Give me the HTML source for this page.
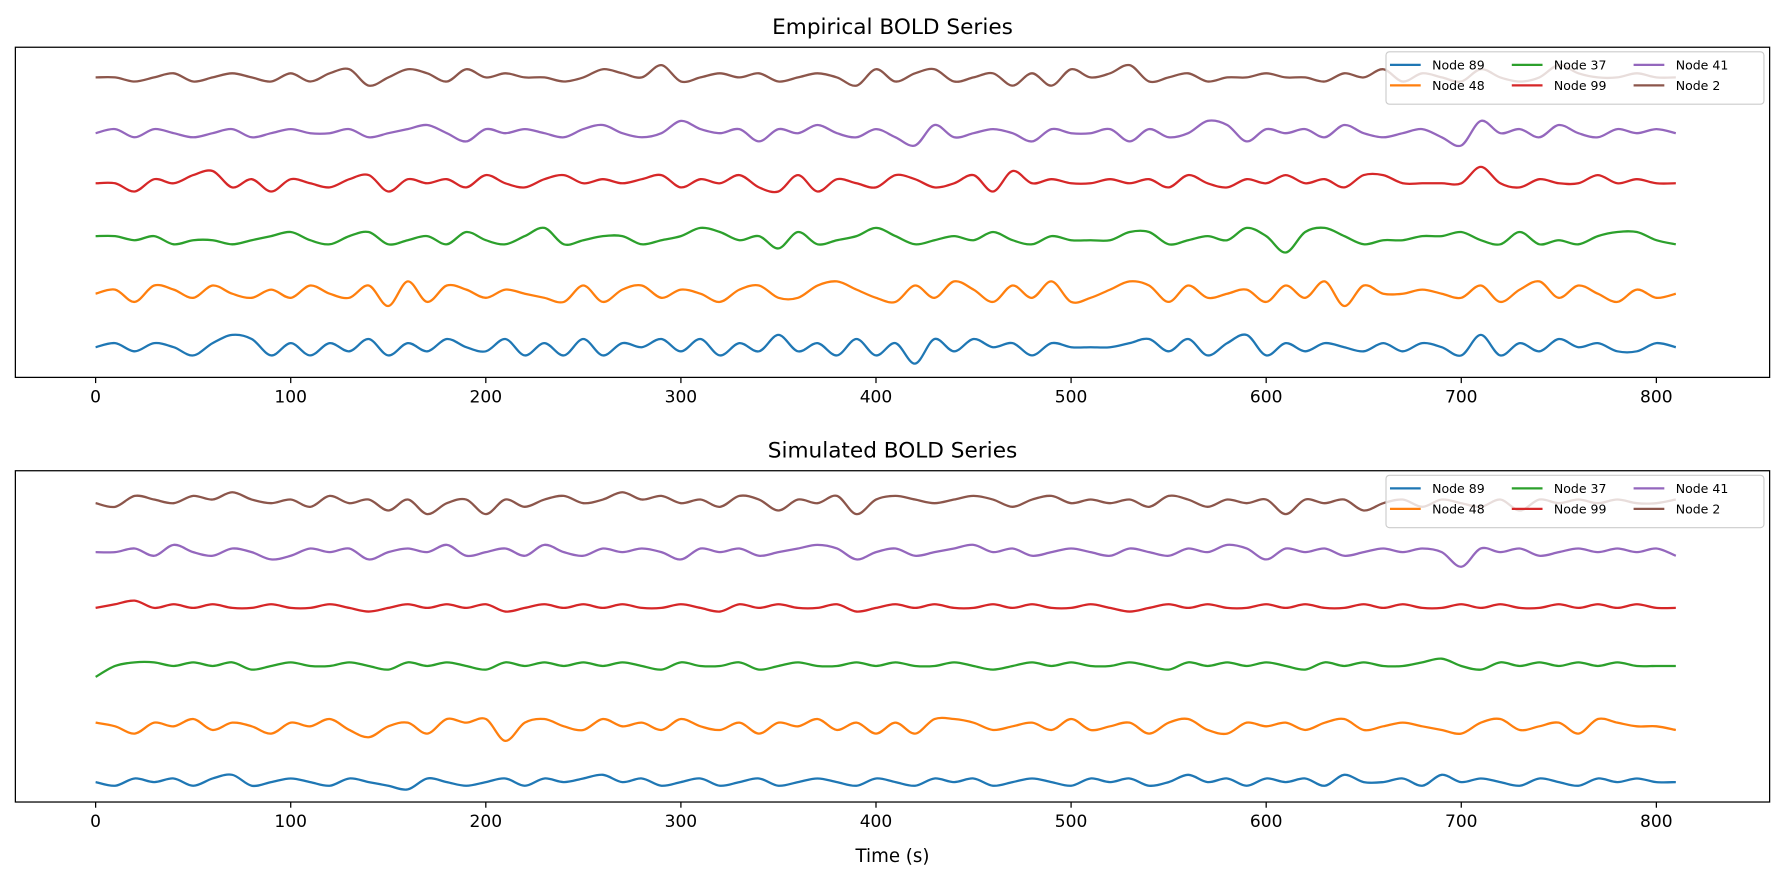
<!DOCTYPE html>
<html><head><meta charset="utf-8">
<style>
body{margin:0;background:#fff;font-family:"Liberation Sans","DejaVu Sans",sans-serif;}
svg{display:block;}
svg text{font-family:"DejaVu Sans","Liberation Sans",sans-serif;}
</style></head>
<body>
<svg id="chart" width="1785" height="880" viewBox="0 0 1568 773" preserveAspectRatio="none">
</svg>
<script>
// time axis: samples every 10 s (last sample clamped at 818 s)
const times = Array.from({length:82},(_, i)=>i*10);
const xTicks = [0,100,200,300,400,500,600,700,800];
const nodeNames = ["Node 89","Node 48","Node 37","Node 99","Node 41","Node 2"];
const colors = ["#1f77b4","#ff7f0e","#2ca02c","#d62728","#9467bd","#8c564b"];
const panelTitles = ["Empirical BOLD Series","Simulated BOLD Series"];
// empirical values (arbitrary units)
const empBlue  =[0,1,-1,1,0,-2,1,3,2,-2,1,-2,1,-1,2,-2,1,-1,2,0,-1,2,-2,1,-2,2,-2,1,0,2,-1,2,-2,1,-1,3,-1,1,-2,2,-2,1,-4,2,-1,2,0,1,-2,1,0,0,0,1,2,-1,2,-2,1,3,-2,1,-1,1,0,-1,1,-1,1,0,-2,3,-2,1,-1,2,0,1,-1,-1,1,0];
const empOrange=[0,1,-2,2,1,-1,2,0,-1,1,-1,2,0,-1,2,-3,3,-2,2,1,-1,1,0,-1,-2,2,-2,1,2,-1,1,0,-2,1,2,-1,-1,2,3,1,-1,-2,2,-1,3,1,-2,2,-1,3,-2,-1,1,3,2,-2,2,-1,0,1,-2,2,-1,3,-3,2,0,0,1,0,-1,2,-2,1,3,-1,2,0,-2,1,-1,0];
const empGreen =[1,1,0,1,-1,0,0,-1,0,1,2,0,-1,1,2,-1,0,1,-1,2,0,-1,1,3,-1,0,1,1,-1,0,1,3,2,0,1,-2,2,-1,0,1,3,1,-1,0,1,0,2,0,-1,1,0,0,0,2,2,-1,0,1,0,3,1,-3,2,3,1,-1,0,0,1,1,2,0,-1,2,-1,0,-1,1,2,2,0,-1];
const empRed   =[0,0,-2,1,0,2,3,-1,1,-2,1,0,-1,1,2,-2,1,0,1,-1,2,0,-1,1,2,0,1,0,1,2,-1,1,0,2,-1,-2,2,-2,1,0,-1,2,1,-1,0,2,-2,3,0,1,0,0,1,0,1,-1,2,0,-1,1,0,2,0,1,-1,2,2,0,0,0,0,4,0,-1,1,0,0,2,0,1,0,0];
const empPurple=[0,1,-1,1,0,-1,0,1,-1,0,1,0,0,1,-1,0,1,2,0,-2,1,0,1,0,-1,1,2,0,-1,0,3,1,0,1,-2,1,0,2,0,-1,1,-1,-3,2,-1,0,1,0,-2,1,0,0,1,-2,1,-1,0,3,2,-2,1,0,1,-1,2,0,-1,0,1,-1,-3,3,0,1,-1,2,0,-1,1,0,1,0];
const empBrown =[0,0,-1,0,1,-1,0,1,0,-1,1,-1,1,2,-2,0,2,1,-1,2,0,1,0,0,-1,0,2,1,0,3,-1,0,1,0,1,-1,0,1,0,-2,2,-1,1,2,-1,0,1,-2,1,-2,2,0,1,3,-1,0,1,-1,0,0,1,0,0,-1,1,0,2,-1,1,0,-1,2,0,-1,0,3,1,0,0,1,0,0];
// simulated values
const simBlue  =[0,-1,1,0,1,-1,1,2,-1,0,1,0,-1,1,0,-1,-2,1,0,-1,0,1,-1,1,0,1,2,0,1,-1,0,1,-1,0,1,-1,0,1,0,-1,1,0,-1,1,0,1,-1,0,1,0,-1,1,0,1,-1,0,2,0,1,-1,1,0,1,-1,2,0,0,1,-1,2,0,1,0,-1,1,0,-1,1,0,1,0,0];
const simOrange=[1,0,-2,1,0,2,-1,1,0,-2,1,0,2,-1,-3,0,1,-2,2,1,2,-4,1,2,0,-1,2,0,1,-1,2,0,-1,1,-2,1,0,2,-1,1,-2,1,-2,2,2,1,-1,0,1,-1,2,-1,0,1,-2,1,2,-1,-2,1,0,1,-1,1,2,-1,0,1,0,-1,-2,1,2,-1,0,1,-2,2,1,0,0,-1];
const simGreen =[-3,0,1,1,0,1,0,1,-1,0,1,0,0,1,0,-1,1,0,1,0,-1,1,0,1,0,1,0,1,0,-1,1,0,0,1,-1,0,1,0,0,1,0,1,0,0,1,0,-1,0,1,0,1,0,0,1,0,-1,1,0,1,0,1,0,-1,1,0,1,0,0,1,2,0,-1,1,0,1,0,1,0,1,0,0,0];
const simRed   =[0,1,2,0,1,0,1,0,0,1,0,0,1,0,-1,0,1,0,1,0,1,-1,0,1,0,1,0,1,0,0,1,0,-1,1,0,1,0,0,1,-1,0,1,0,1,0,0,1,0,1,0,0,1,0,-1,0,1,0,1,0,0,1,0,1,0,0,1,0,1,0,0,1,0,1,0,0,1,0,1,0,1,0,0];
const simPurple=[0,0,1,-1,2,0,-1,1,0,-2,-1,1,0,1,-2,0,1,0,2,-1,0,1,-1,2,0,-1,1,0,1,0,-2,1,0,1,-1,0,1,2,1,-2,0,1,-1,0,1,2,0,1,-1,0,1,0,-1,1,0,-1,1,0,2,1,-2,1,0,1,-1,0,1,0,1,0,-4,1,0,1,-1,0,1,0,1,0,1,-1];
const simBrown =[0,-1,2,1,0,2,1,3,1,0,1,-1,2,0,1,-2,1,-3,0,1,-3,1,-1,1,2,0,1,3,1,2,0,1,-1,2,1,-2,1,0,2,-3,1,2,1,0,1,2,1,-1,1,2,0,1,0,1,-1,2,1,-1,1,0,1,-3,1,0,1,-2,0,1,-1,1,0,-1,1,-2,1,0,1,0,1,0,0,1];
const panels=[
  {top:41,h:290,series:[empBlue,empOrange,empGreen,empRed,empPurple,empBrown],base:[305,258,211,161,117,68],unit:3.6},
  {top:413,h:291,series:[simBlue,simOrange,simGreen,simRed,simPurple,simBrown],base:[687,638,585,534,485,442],unit:3.2}
];
const NS="http://www.w3.org/2000/svg";
const svg=document.getElementById('chart');
function el(tag,attrs,parent){const e=document.createElementNS(NS,tag);for(const k in attrs)e.setAttribute(k,attrs[k]);(parent||svg).appendChild(e);return e;}
function xScale(t){return 84+(t/800)*1371;}
function smoothPath(pts){
  let d="M"+pts[0][0].toFixed(1)+","+pts[0][1].toFixed(1);
  for(let i=0;i<pts.length-1;i++){
    const p0=pts[Math.max(0,i-1)],p1=pts[i],p2=pts[i+1],p3=pts[Math.min(pts.length-1,i+2)];
    const c1x=p1[0]+(p2[0]-p0[0])/6,c1y=p1[1]+(p2[1]-p0[1])/6;
    const c2x=p2[0]-(p3[0]-p1[0])/6,c2y=p2[1]-(p3[1]-p1[1])/6;
    d+="C"+c1x.toFixed(1)+","+c1y.toFixed(1)+" "+c2x.toFixed(1)+","+c2y.toFixed(1)+" "+p2[0].toFixed(1)+","+p2[1].toFixed(1);
  }
  return d;
}
panels.forEach((p,pi)=>{
  const g=el('g',{});
  
  
  const title=el('text',{x:784,y:p.top-11,'text-anchor':'middle','font-size':19,fill:'#000'},g);
  title.textContent=panelTitles[pi];
  
  
  p.series.forEach((vals,si)=>{
    const pts=vals.map((v,i)=>[xScale(Math.min(times[i],818)),p.base[si]-v*p.unit]);
    const path=el('path',{d:smoothPath(pts),fill:'none',stroke:colors[si],'stroke-width':2},g);
    
    
  });
  const frame=el('rect',{x:13.5,y:p.top+0.5,width:1541,height:p.h,fill:'none',stroke:'#000','stroke-width':1.1},g);
  
  
  xTicks.forEach(t=>{
    const x=xScale(t),yb=p.top+p.h+0.5;
    const tk=el('line',{x1:x,x2:x,y1:yb,y2:yb+5,stroke:'#000','stroke-width':1.1},g);
    
    
    const lb=el('text',{x:x,y:yb+22,'text-anchor':'middle','font-size':15,fill:'#000'},g);
    lb.textContent=t;
    
    
  });
  const lg=el('g',{},g);
  
  
  const ly=p.top+4;
  el('rect',{x:1217.5,y:ly+0.5,width:332,height:46,rx:3,fill:'#fff','fill-opacity':0.8,stroke:'#ccc'},lg);
  [0,1,2,3,4,5].forEach(si=>{
    const col=Math.floor(si/2),row=si%2;
    const x0=1221+col*107,y0=ly+12+row*18;
    const e=el('g',{},lg);
    
    
    el('line',{x1:x0,x2:x0+27,y1:y0,y2:y0,stroke:colors[si],'stroke-width':2},e);
    const t=el('text',{x:x0+37,y:y0+4,'font-size':11,fill:'#000'},e);
    t.textContent=nodeNames[si];
  });
});
const xl=el('text',{x:784,y:757,'text-anchor':'middle','font-size':16,fill:'#000'});
xl.textContent='Time (s)';


</script>
</body></html>
